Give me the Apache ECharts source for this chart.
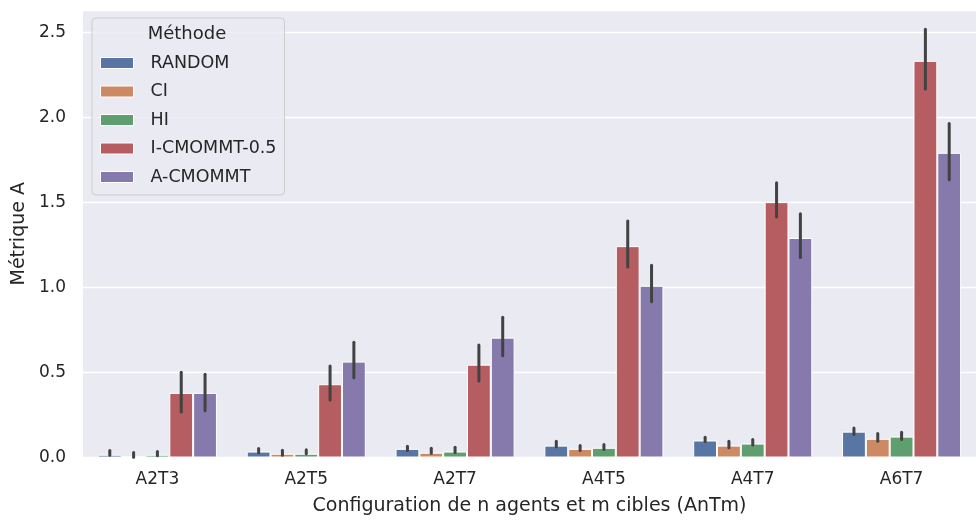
<!DOCTYPE html>
<html>
<head>
<meta charset="utf-8">
<script src="https://cdn.jsdelivr.net/npm/echarts@6/dist/echarts.min.js"></script>
<style>
html,body{margin:0;padding:0;background:#fff;}
#chart{width:976px;height:522px;}
</style>
</head>
<body>
<div id="chart"></div>
<script>
const categories = ['A2T3', 'A2T5', 'A2T7', 'A4T5', 'A4T7', 'A6T7'];
const methods = ['RANDOM', 'CI', 'HI', 'I-CMOMMT-0.5', 'A-CMOMMT'];
const colors = ['#5975a4', '#cc8963', '#5f9e6e', '#b55d60', '#857aab'];

const randomVals = [0.016, 0.035, 0.051, 0.070, 0.100, 0.152];
const ciVals     = [0.005, 0.022, 0.028, 0.051, 0.070, 0.110];
const hiVals     = [0.016, 0.022, 0.035, 0.057, 0.082, 0.123];
const icmVals    = [0.380, 0.431, 0.546, 1.243, 1.502, 2.333];
const acmVals    = [0.380, 0.564, 0.705, 1.010, 1.291, 1.792];

const randomLow  = [0.013, 0.028, 0.041, 0.063, 0.094, 0.135];
const randomHigh = [0.041, 0.053, 0.066, 0.096, 0.119, 0.174];
const ciLow      = [0.002, 0.013, 0.025, 0.041, 0.057, 0.096];
const ciHigh     = [0.029, 0.043, 0.055, 0.070, 0.096, 0.141];
const hiLow      = [0.010, 0.022, 0.029, 0.047, 0.074, 0.106];
const hiHigh     = [0.035, 0.045, 0.060, 0.076, 0.106, 0.148];
const icmLow     = [0.268, 0.338, 0.450, 1.121, 1.414, 2.167];
const icmHigh    = [0.502, 0.538, 0.662, 1.391, 1.616, 2.519];
const acmLow     = [0.275, 0.469, 0.599, 0.916, 1.176, 1.634];
const acmHigh    = [0.490, 0.678, 0.825, 1.131, 1.434, 1.965];

const yTicks = [0, 0.5, 1.0, 1.5, 2.0, 2.5];

const values = [randomVals, ciVals, hiVals, icmVals, acmVals];
const lows = [randomLow, ciLow, hiLow, icmLow, acmLow];
const highs = [randomHigh, ciHigh, hiHigh, icmHigh, acmHigh];

const FONT = 'DejaVu Sans';
const chart = echarts.init(document.getElementById('chart'), null, {renderer: 'canvas'});

const series = [];
methods.forEach((m, i) => {
  series.push({
    name: m,
    type: 'bar',
    data: values[i],
    barGap: '0%',
    barCategoryGap: '20%',
    itemStyle: {color: colors[i], borderColor: '#ffffff', borderWidth: 1},
    emphasis: {disabled: true},
    z: 2
  });
});
methods.forEach((m, i) => {
  series.push({
    name: m + '_err',
    type: 'custom',
    data: categories.map((c, k) => [k, lows[i][k], highs[i][k]]),
    z: 10,
    silent: true,
    renderItem: function (params, api) {
      const k = api.value(0);
      const p1 = api.coord([k, api.value(1)]);
      const p2 = api.coord([k, api.value(2)]);
      const band = api.size([1, 0])[0];
      const bw = band * 0.8 / 5;
      const off = (i - 2) * bw;
      return {
        type: 'line',
        shape: {x1: p1[0] + off, y1: p1[1], x2: p2[0] + off, y2: p2[1]},
        style: {stroke: '#424242', lineWidth: 3, lineCap: 'round'}
      };
    }
  });
});

chart.setOption({
  animation: false,
  backgroundColor: '#ffffff',
  textStyle: {fontFamily: FONT},
  grid: {
    left: 83, top: 10, width: 902, bottom: 64.5,
    show: true, backgroundColor: '#EAEAF2', borderWidth: 0
  },
  legend: {
    data: methods,
    orient: 'vertical',
    left: 92, top: 18,
    icon: 'rect',
    itemWidth: 33, itemHeight: 11,
    itemGap: 10.5,
    padding: [36, 8, 9, 8],
    backgroundColor: 'rgba(234,234,242,0.8)',
    borderColor: '#cccccc', borderWidth: 1, borderRadius: 4,
    selectedMode: false,
    textStyle: {fontFamily: FONT, fontSize: 17.5, color: '#262626', padding: [0, 0, 0, 12], lineHeight: 16},
    itemStyle: {borderColor: '#ffffff', borderWidth: 1}
  },
  graphic: [{
    type: 'text', z: 100,
    style: {text: 'Méthode', x: 0, y: 0, fill: '#262626', font: '18px "DejaVu Sans"', textAlign: 'center', textVerticalAlign: 'middle'},
    position: [187, 34]
  }],
  xAxis: {
    type: 'category',
    data: categories,
    axisLine: {show: false}, axisTick: {show: false},
    axisLabel: {fontFamily: FONT, fontSize: 17, color: '#262626', margin: 14},
    splitLine: {show: false},
    name: 'Configuration de n agents et m cibles (AnTm)',
    nameLocation: 'middle', nameGap: 39,
    nameTextStyle: {fontFamily: FONT, fontSize: 19, color: '#262626'}
  },
  yAxis: {
    type: 'value',
    min: 0, max: 2.632, interval: 0.5,
    axisLine: {show: false}, axisTick: {show: false},
    axisLabel: {
      fontFamily: FONT, fontSize: 17, color: '#262626', margin: 17,
      showMaxLabel: false,
      formatter: v => (yTicks.some(t => Math.abs(t - v) < 1e-9) ? v.toFixed(1) : '')
    },
    splitLine: {show: true, lineStyle: {color: '#ffffff', width: 1.3}},
    name: 'Métrique A',
    nameLocation: 'middle', nameGap: 53,
    nameTextStyle: {fontFamily: FONT, fontSize: 19, color: '#262626'}
  },
  series: series
});
</script>
</body>
</html>
